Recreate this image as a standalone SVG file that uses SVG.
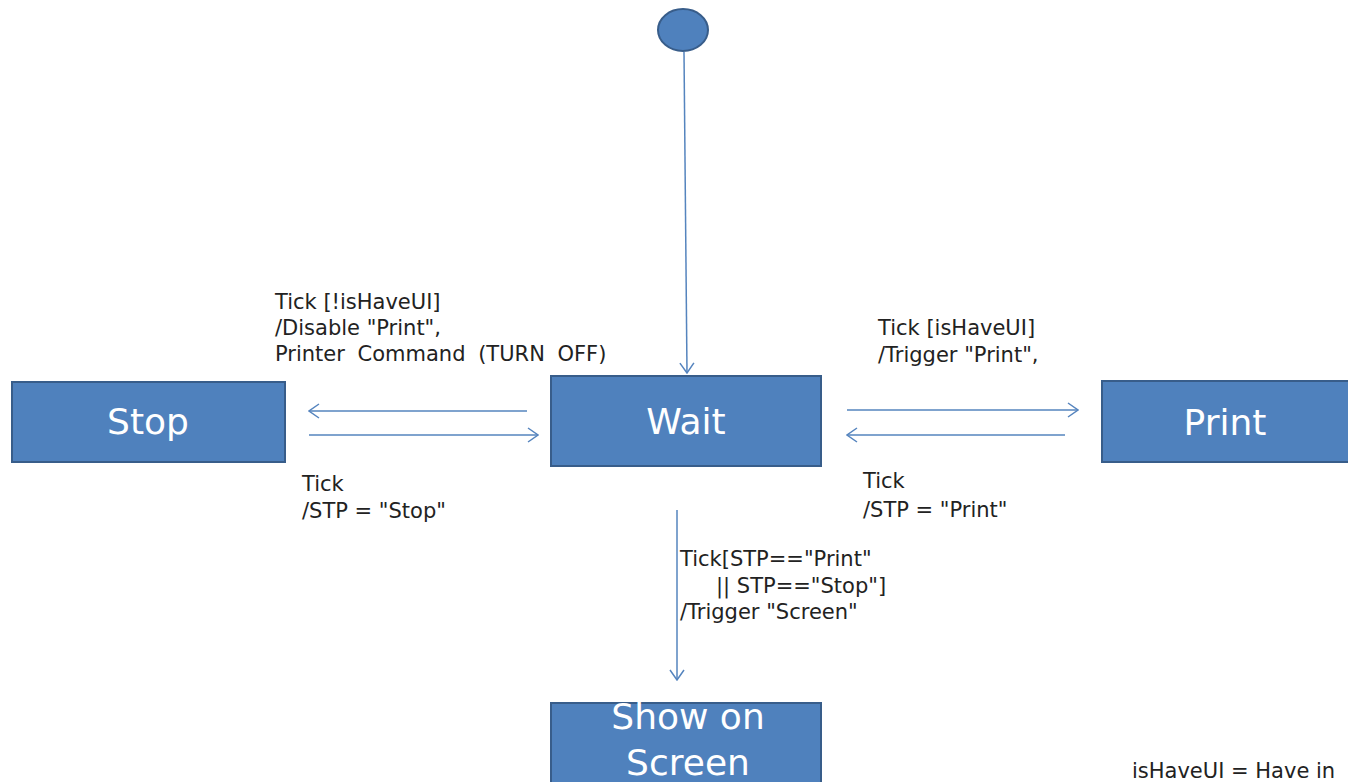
<svg xmlns="http://www.w3.org/2000/svg" width="1348" height="782" viewBox="0 0 1348 782">
  <defs>
    <marker id="open" viewBox="0 0 12 16" refX="11" refY="8" markerWidth="12" markerHeight="16" markerUnits="userSpaceOnUse" orient="auto">
      <path d="M1,1 L11,8 L1,15" fill="none" stroke="#5584BE" stroke-width="1.5"/>
    </marker>
    <style>
      .state { fill: #4F81BD; stroke: #385D8A; stroke-width: 2; }
      .slabel { font-family: "DejaVu Sans", "Liberation Sans", sans-serif; font-size: 36px; fill: #ffffff; text-anchor: middle; }
      .lbl { font-family: "DejaVu Sans", "Liberation Sans", sans-serif; font-size: 21px; fill: #222222; }
      .conn { stroke: #5584BE; stroke-width: 1.5; fill: none; marker-end: url(#open); }
    </style>
  </defs>
  <rect width="1348" height="782" fill="#ffffff"/>

  <g id="initial">
    <ellipse cx="683" cy="30" rx="25" ry="21" class="state"/>
  </g>

  <g id="stop">
    <rect x="12" y="382" width="273" height="80" class="state"/>
    <text x="148" y="434" class="slabel">Stop</text>
  </g>

  <g id="wait">
    <rect x="551" y="376" width="270" height="90" class="state"/>
    <text x="686" y="434" class="slabel">Wait</text>
  </g>

  <g id="print">
    <rect x="1102" y="381" width="260" height="81" class="state"/>
    <text x="1225" y="435" class="slabel">Print</text>
  </g>

  <g id="show">
    <rect x="551" y="703" width="270" height="100" class="state"/>
    <text x="688" y="729" class="slabel">Show on</text>
    <text x="688" y="775" class="slabel">Screen</text>
  </g>

  <g id="connectors">
    <line x1="684" y1="52" x2="687" y2="373" class="conn"/>
    <line x1="527" y1="411" x2="309" y2="411" class="conn"/>
    <line x1="309" y1="435" x2="538" y2="435" class="conn"/>
    <line x1="847" y1="410" x2="1078" y2="410" class="conn"/>
    <line x1="1065" y1="435" x2="847" y2="435" class="conn"/>
    <line x1="677" y1="510" x2="677" y2="680" class="conn"/>
  </g>

  <g id="labels">
    <text class="lbl" x="275" y="309">Tick [!isHaveUI]</text>
    <text class="lbl" x="275" y="335">/Disable "Print",</text>
    <text class="lbl" x="275" y="361" word-spacing="6">Printer Command (TURN OFF)</text>

    <text class="lbl" x="302" y="491">Tick</text>
    <text class="lbl" x="302" y="518">/STP = "Stop"</text>

    <text class="lbl" x="878" y="335">Tick [isHaveUI]</text>
    <text class="lbl" x="878" y="362">/Trigger "Print",</text>

    <text class="lbl" x="863" y="488">Tick</text>
    <text class="lbl" x="863" y="517">/STP = "Print"</text>

    <text class="lbl" x="680" y="566">Tick[STP=="Print"</text>
    <text class="lbl" x="716" y="593">|| STP=="Stop"]</text>
    <text class="lbl" x="680" y="619">/Trigger "Screen"</text>

    <text class="lbl" x="1132" y="778">isHaveUI = Have in</text>
  </g>
</svg>
